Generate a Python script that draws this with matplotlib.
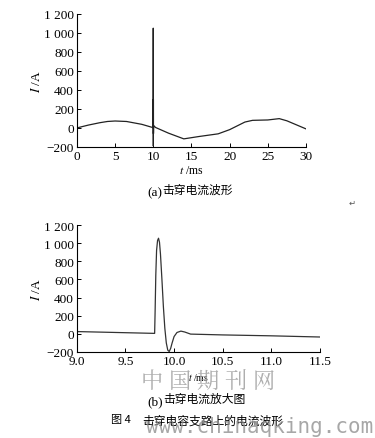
import numpy as np
import matplotlib.pyplot as plt

plt.rcParams['font.family'] = ['Liberation Serif', 'Noto Sans CJK SC']
plt.rcParams['mathtext.fontset'] = 'stix'

# (a) full breakdown current waveform, t in ms, I in A
t_full = [0, 1.5, 3, 4, 5, 6.5, 8.5, 9.99, 10.0, 10.01, 10.02, 10.03, 10.05, 10.3,
          12, 14, 16, 18.5, 20, 22, 23, 25, 26.5, 27.5, 30]
i_full = [0, 30, 55, 68, 73, 68, 38, 3, 1050, -190, 300, -60, 25, 5,
          -55, -115, -90, -62, -18, 62, 80, 84, 98, 75, -10]

# (b) zoom on the breakdown
t_zoom = [9.0, 9.4, 9.8, 9.805, 9.812, 9.82, 9.83, 9.84, 9.85, 9.86, 9.875, 9.89, 9.905,
          9.92, 9.935, 9.95, 9.965, 9.98, 10.0, 10.03, 10.07, 10.11, 10.17, 10.5, 11.0, 11.5]
i_zoom = [25, 15, 5, 250, 650, 920, 1030, 1055, 1010, 880, 600, 300, 60,
          -100, -180, -195, -160, -100, -30, 15, 30, 20, -3, -12, -22, -35]

yticks = [-200, 0, 200, 400, 600, 800, 1000, 1200]
ytick_labels = ['\u2212200', '0', '200', '400', '600', '800', '1 000', '1 200']
xt_a = [0, 5, 10, 15, 20, 25, 30]
xt_b = [9.0, 9.5, 10.0, 10.5, 11.0, 11.5]

fig = plt.figure(figsize=(3.75, 4.39), dpi=100)
fs = 9.5

def style(ax):
    for s in ['top', 'right']:
        ax.spines[s].set_visible(False)
    for s in ['left', 'bottom']:
        ax.spines[s].set_linewidth(0.8)
    ax.tick_params(direction='in', length=3, width=0.7, labelsize=fs, pad=2)
    ax.set_ylim(-200, 1200)
    ax.set_yticks(yticks)
    ax.set_yticklabels(ytick_labels)
    ax.set_ylabel('$I$ /A', fontsize=fs, labelpad=1)

ax1 = fig.add_axes([0.205, 0.663, 0.611, 0.303])
ax1.plot(t_full, i_full, color='#222222', lw=0.9)
ax1.set_xlim(0, 30)
ax1.set_xticks(xt_a)
style(ax1)
ax1.set_xlabel('$t$ /ms', fontsize=8.5, labelpad=2)

ax2 = fig.add_axes([0.205, 0.196, 0.648, 0.289])
ax2.plot(t_zoom, i_zoom, color='#333333', lw=0.9)
ax2.set_xlim(9.0, 11.5)
ax2.set_xticks(xt_b)
ax2.set_xticklabels(['%.1f' % v for v in xt_b])
style(ax2)
ax2.set_xlabel('$t$ /ms', fontsize=7, labelpad=3)

cjk = ['Noto Sans CJK SC']
fig.text(0.433, 1 - 193 / 439, '(a)', fontsize=fs, ha='right', va='center')
fig.text(0.433, 1 - 190 / 439, '击穿电流波形', fontsize=8.5, ha='left', va='center', family=cjk)
fig.text(0.435, 1 - 402 / 439, '(b)', fontsize=fs, ha='right', va='center')
fig.text(0.435, 1 - 399 / 439, '击穿电流放大图', fontsize=8.5, ha='left', va='center', family=cjk)
fig.text(0.94, 1 - 203 / 439, '\u21b5', fontsize=6, color='#555555', ha='center', va='center',
         family=['DejaVu Sans'])
fig.text(0.297, 1 - 420 / 439, '图 4', fontsize=8, ha='left', va='center', family=cjk)
fig.text(0.38, 1 - 421 / 439, '击穿电容支路上的电流波形', fontsize=8.5, ha='left', va='center',
         family=cjk)
fig.text(0.555, 1 - 383 / 439, '中 国 期 刊 网', fontsize=16, color='#9a9a9a', alpha=0.8,
         ha='center', va='center', family=['Noto Serif CJK SC', 'Noto Sans CJK SC'])
fig.text(0.995, 1 - 427 / 439, 'www.chinaqking.com', fontsize=15, color='#8a8a8a', alpha=0.75,
         ha='right', va='center', family=['DejaVu Sans Mono'])

fig.savefig('out.png', dpi=100)
